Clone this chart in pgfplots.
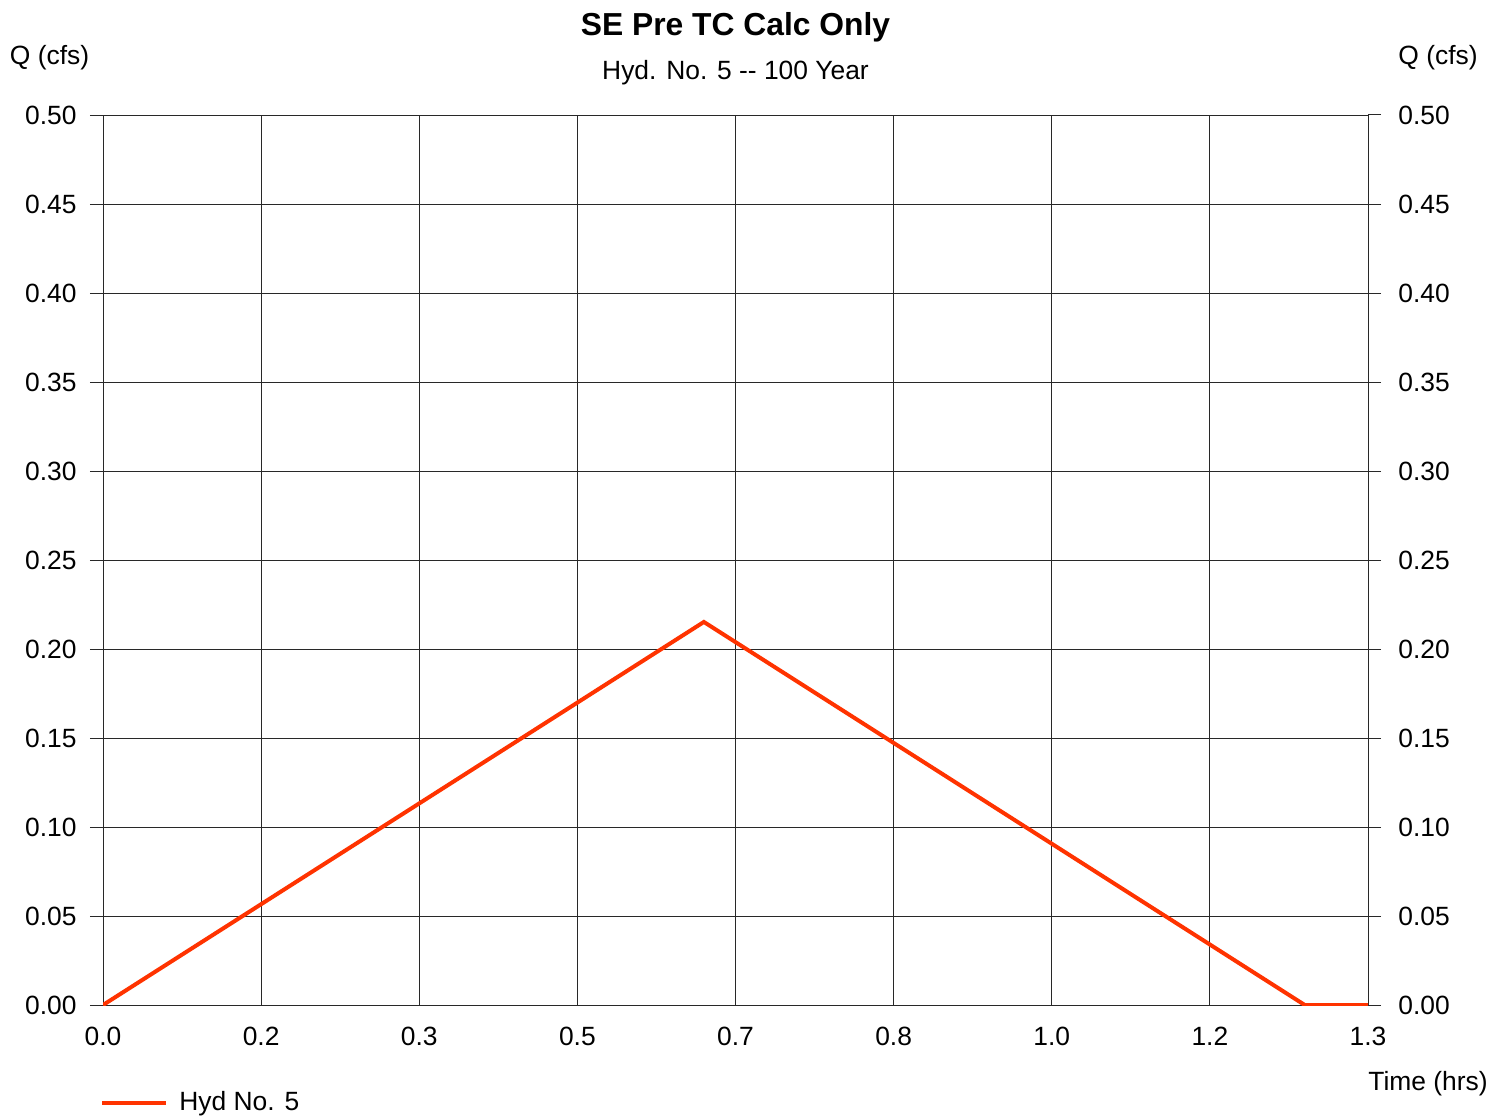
\documentclass[border=0pt]{standalone}
\usepackage{fontspec}
\setmainfont{Liberation Sans}
\usepackage{pgfplots}
\pgfplotsset{compat=1.18}
\definecolor{hydRed}{RGB}{255,51,0}
\definecolor{gridGray}{RGB}{40,40,40}
\begin{document}
\fontsize{13.2}{15.8}\selectfont
\begin{tikzpicture}
\useasboundingbox (-51.5pt,-55.5pt) rectangle (694pt,502.5pt);
\pgfplotsset{
  hydbase/.style={
    scale only axis, width=632.5pt, height=445pt,
    at={(0,0)}, anchor=south west,
    xmin=0, xmax=1.333333, ymin=0, ymax=0.5,
    ytick={0,0.05,0.1,0.15,0.2,0.25,0.3,0.35,0.4,0.45,0.5},
    yticklabels={0.00,0.05,0.10,0.15,0.20,0.25,0.30,0.35,0.40,0.45,0.50},
    tick align=outside, major tick length=6.5pt,
    tick style={gridGray, line width=0.5pt},
    tick label style={font=\fontsize{13.2}{15.8}\selectfont},
    /pgf/number format/assume math mode=true,
  }
}
\begin{axis}[hydbase,
    xtick={0,0.166667,0.333333,0.5,0.666667,0.833333,1,1.166667,1.333333},
    xticklabels={0.0,0.2,0.3,0.5,0.7,0.8,1.0,1.2,1.3},
    xtick style={draw=none},
    xticklabel style={anchor=north, inner sep=0pt, yshift=-4.5pt},
    yticklabel style={anchor=east, inner sep=0pt, xshift=-6.5pt},
    ytick pos=left,
    grid=major,
    major grid style={gridGray, line width=0.5pt},
    axis line style={gridGray, line width=0.5pt},
    legend style={draw=none, fill=none, inner sep=0pt,
      at={(axis description cs:0,-0.110)}, anchor=west, xshift=-1.5pt,
      font=\fontsize{13.2}{15.8}\selectfont,
      nodes={inner sep=0pt},
      /tikz/every odd column/.append style={column sep=5.5pt}},
    legend image code/.code={\draw[#1] (0pt,0pt) -- (32pt,0pt);},
]
\addplot[hydRed, line width=2pt] coordinates {
  (0,0) (0.633333,0.2152) (1.266667,0) (1.333333,0)
};
\legend{Hyd No. 5}
\end{axis}
\begin{axis}[hydbase,
    hide x axis,
    axis y line*=right,
    axis line style={draw=none},
    yticklabel style={anchor=west, inner sep=0pt, xshift=8.5pt},
]
\end{axis}
\node[font=\fontsize{15.9}{19}\selectfont\bfseries] at (316.25pt,489pt) {SE Pre TC Calc Only};
\node at (316.25pt,466pt) {Hyd. No. 5 -{}- 100 Year};
\node at (-26.75pt,473.5pt) {Q (cfs)};
\node at (667.5pt,473.5pt) {Q (cfs)};
\node at (662.5pt,-39.5pt) {Time (hrs)};
\end{tikzpicture}
\end{document}
